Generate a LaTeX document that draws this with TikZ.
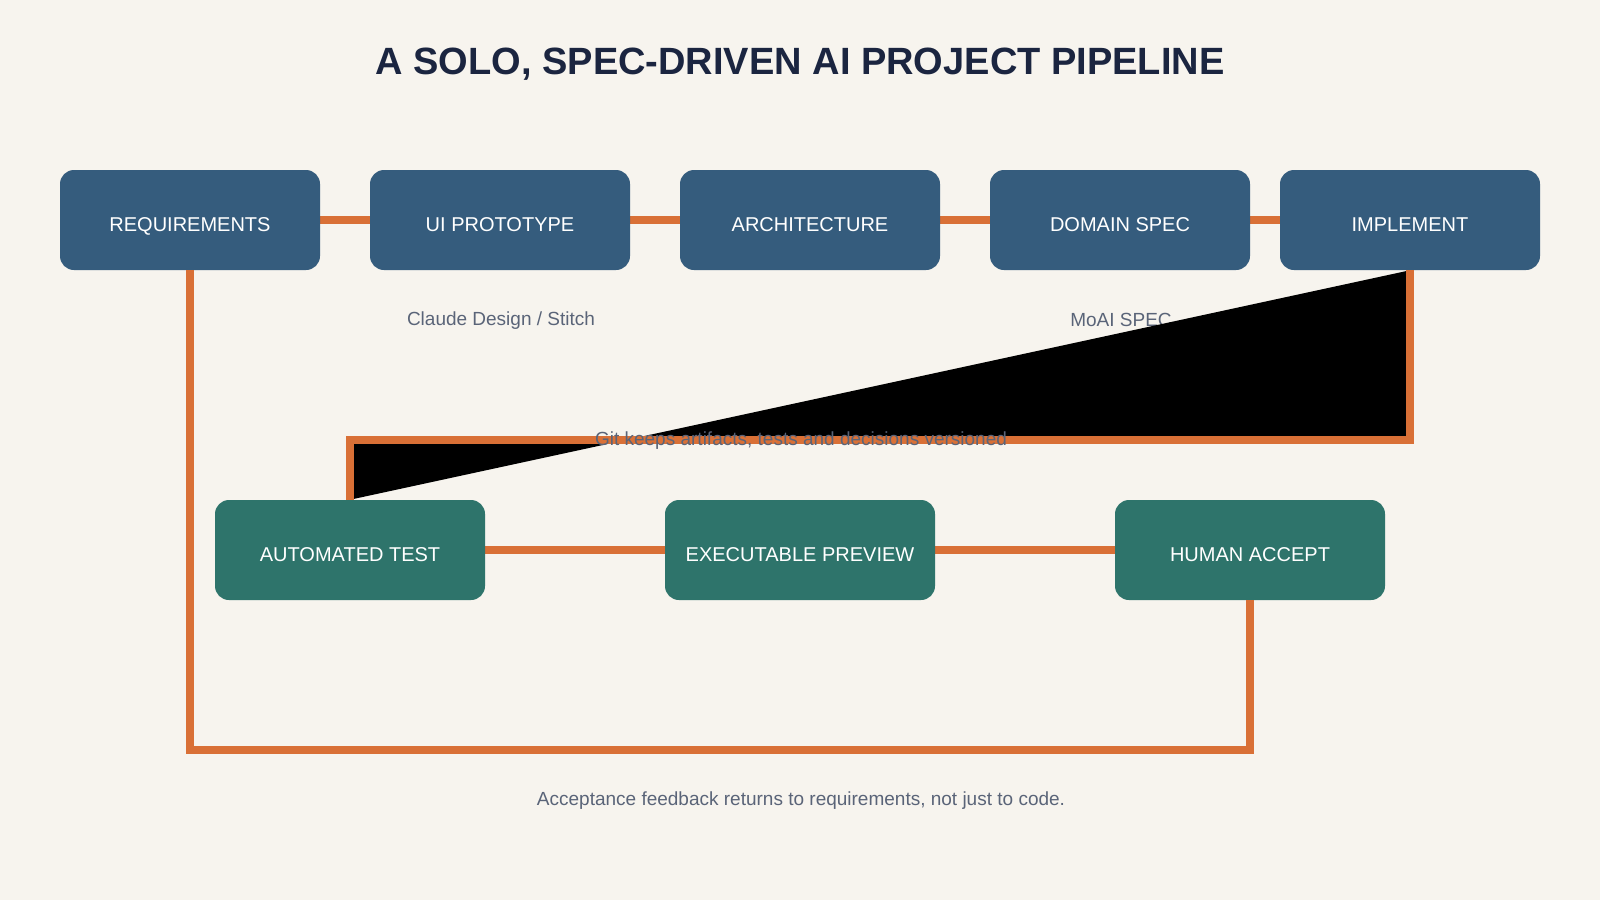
\documentclass[tikz,border=0pt]{standalone}
\usepackage{fontspec}
\setmainfont{Liberation Sans}
\usetikzlibrary{positioning}

\definecolor{bgcream}{HTML}{F7F4EE}
\definecolor{specblue}{HTML}{355C7D}
\definecolor{checkgreen}{HTML}{2E746B}
\definecolor{wireorange}{HTML}{D97036}
\definecolor{titlenavy}{HTML}{1B2540}
\definecolor{notegray}{HTML}{5A6478}

\begin{document}
\begin{tikzpicture}[
    x=0.75pt, y=-0.75pt,
    stage/.style={
        fill=specblue, rounded corners=10.5pt,
        minimum width=195pt, minimum height=75pt,
        inner sep=0pt, text=white,
        text height=16.5pt, text depth=0pt,
        font=\fontsize{15}{18}\selectfont
    },
    check/.style={stage, fill=checkgreen, minimum width=202.5pt},
    link/.style={draw=wireorange, line width=6pt},
    note/.style={text=notegray, inner sep=0pt, font=\fontsize{14.25}{17}\selectfont},
]

% Canvas
\fill[bgcream] (0,0) rectangle (1600,900);
\useasboundingbox (0,0) rectangle (1600,900);

\node[text=titlenavy, font=\fontsize{28.5}{32}\selectfont\bfseries] (title) at (800, 64) {A SOLO, SPEC-DRIVEN AI PROJECT PIPELINE};

% Connectors behind the boxes
\coordinate (reqc) at (190, 220);
\coordinate (implc) at (1410, 220);
\draw[link] (reqc) -- (implc);
\coordinate (autoc) at (350, 550);
\coordinate (acceptc) at (1250, 550);
\draw[link] (autoc) -- (acceptc);

% Top row: specification stages (y = 220)
\node[stage] (req) at (190, 220) {REQUIREMENTS};
\node[stage] (proto) at (500, 220) {UI PROTOTYPE};
\node[stage] (arch) at (810, 220) {ARCHITECTURE};
\node[stage] (domain) at (1120, 220) {DOMAIN SPEC};
\node[stage] (impl) at (1410, 220) {IMPLEMENT};

% Bottom row: checks (y = 550)
\node[check] (auto) at (350, 550) {AUTOMATED TEST};
\node[check] (preview) at (800, 550) {EXECUTABLE PREVIEW};
\node[check] (accept) at (1250, 550) {HUMAN ACCEPT};

% Tool notes under the top row
\node[note] (design) at (501, 321) {Claude Design / Stitch};
\node[note] (moai) at (1121, 320) {MoAI SPEC};

% Implement down to testing (filled, as in the source)
\draw[link, fill=black] (impl.south) -- ++(0, 170) -| (auto.north);

% Acceptance loop back to requirements
\draw[link] (accept.south) -- ++(0, 150) -| (req.south);

\node[note] (git) at (801, 441) {Git keeps artifacts, tests and decisions versioned};
\node[note] (loop) at (801, 801) {Acceptance feedback returns to requirements, not just to code.};

\end{tikzpicture}
\end{document}
